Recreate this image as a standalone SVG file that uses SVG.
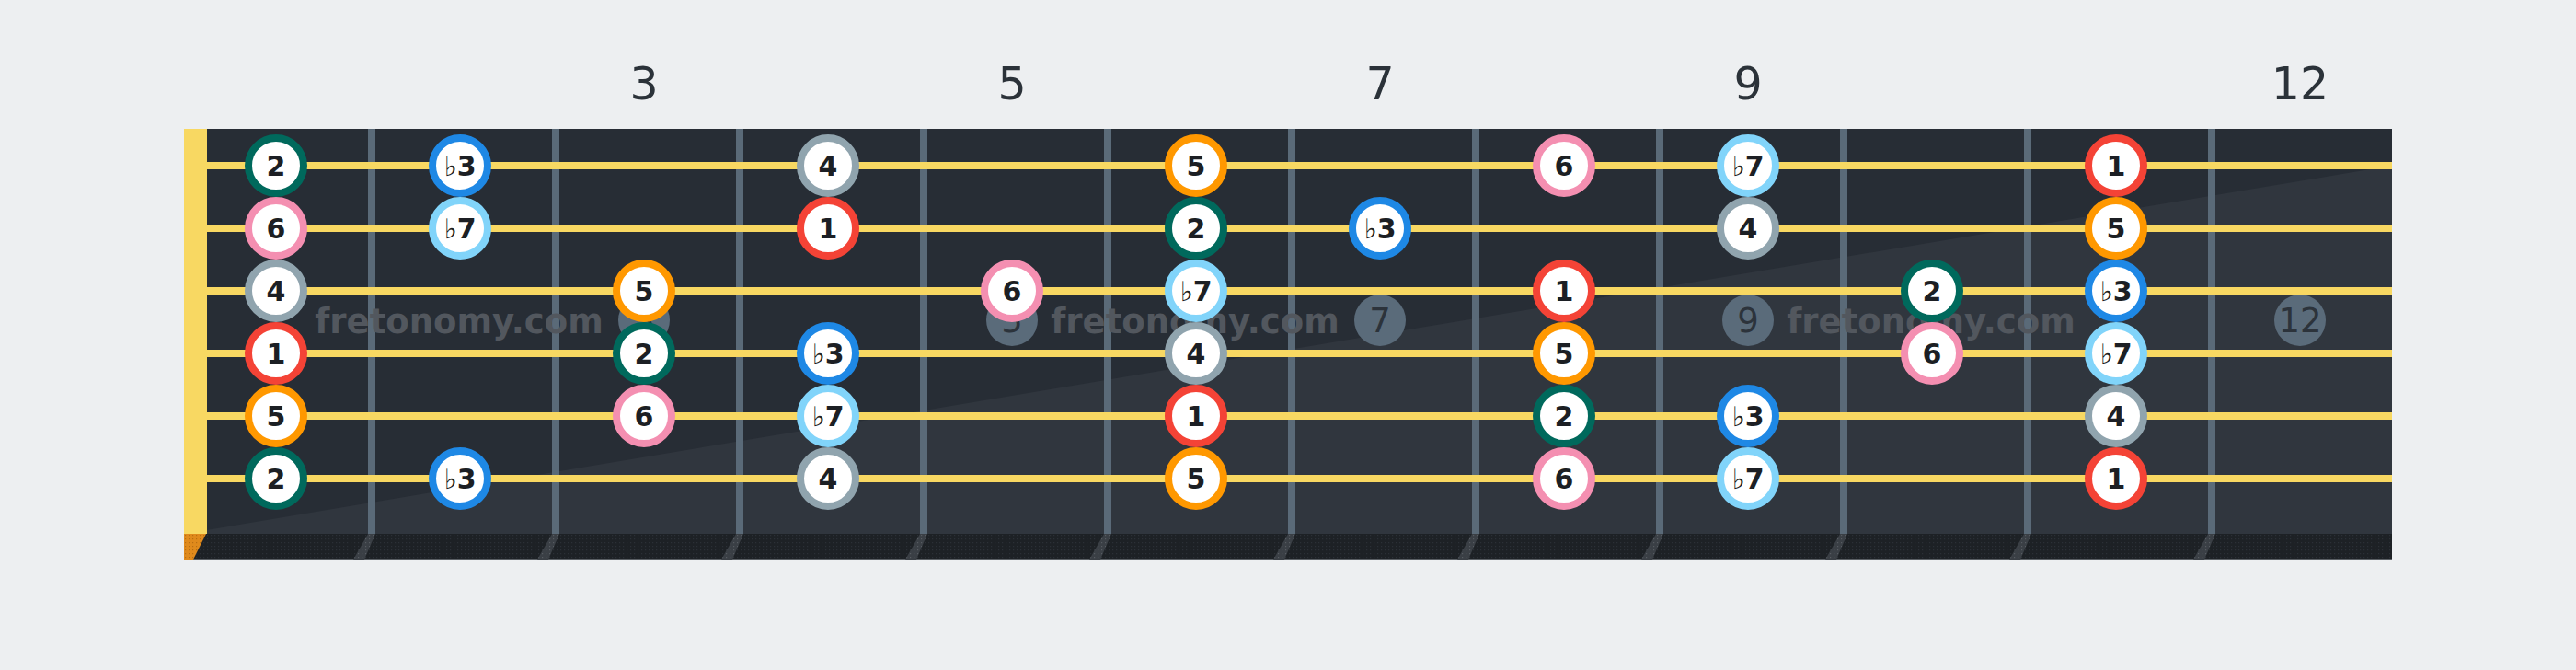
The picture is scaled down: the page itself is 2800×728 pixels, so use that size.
<svg xmlns="http://www.w3.org/2000/svg" width="2800" height="728" viewBox="0 0 2800 728">
<defs>
<pattern id="dots" width="4" height="4" patternUnits="userSpaceOnUse">
<rect width="4" height="4" fill="#1d2125"/>
<rect x="1" y="1" width="1.2" height="1.2" fill="#2b3036"/>
</pattern>
<pattern id="dotsLight" width="4" height="4" patternUnits="userSpaceOnUse">
<rect width="4" height="4" fill="#3a3f45"/>
<rect x="1" y="1" width="1.2" height="1.2" fill="#575c62"/>
</pattern>
<pattern id="dotsOrange" width="4" height="4" patternUnits="userSpaceOnUse">
<rect width="4" height="4" fill="#e08a1c"/>
<rect x="1" y="1" width="1.2" height="1.2" fill="#b86e12"/>
</pattern>
</defs>
<style>
.fretnum{font-family:"DejaVu Sans","Liberation Sans",sans-serif;font-size:49px;fill:#2b3239;text-anchor:middle}
.wire{fill:#5a6a78}
.str{fill:#f8d862}
.inlay circle{fill:#5a6b7a}
.inlay text{font-family:"DejaVu Sans","Liberation Sans",sans-serif;font-size:37px;fill:#2c333b;text-anchor:middle}
.wm{font-family:"DejaVu Sans","Liberation Sans",sans-serif;font-weight:bold;font-size:37px;fill:#52575e;text-anchor:middle}
.note circle{fill:#ffffff;stroke-width:8}
.note text{font-family:"DejaVu Sans","Liberation Sans",sans-serif;font-weight:bold;font-size:30px;fill:#1c1f24;text-anchor:middle}
.note tspan.fl{font-weight:normal}
.d1 circle{stroke:#f44336}
.d2 circle{stroke:#00695c}
.d3 circle{stroke:#1e88e5}
.d4 circle{stroke:#90a4ae}
.d5 circle{stroke:#ff9800}
.d6 circle{stroke:#f48fb1}
.d7 circle{stroke:#81d4fa}
</style>
<rect width="2800" height="728" fill="#edeff1"/>
<g id="fret-numbers">
<text class="fretnum" x="700" y="108">3</text>
<text class="fretnum" x="1100" y="108">5</text>
<text class="fretnum" x="1500" y="108">7</text>
<text class="fretnum" x="1900" y="108">9</text>
<text class="fretnum" x="2500" y="108">12</text>
</g>
<g id="board">
<rect x="200" y="140" width="2400" height="440" fill="#272d35"/>
<polygon points="200,580 2600,180 2600,580" fill="#30363e"/>
<rect x="200" y="580" width="2400" height="28" fill="url(#dots)"/>
<rect x="200" y="607.5" width="2400" height="1.5" fill="#9aa0a6"/>
<polygon points="200,580 224,580 210,608 200,608" fill="url(#dotsOrange)"/>
<rect x="200" y="140" width="25" height="440" fill="#f8d862"/>
<g id="frets">
<rect class="wire" x="400" y="140" width="8" height="440"/>
<rect class="wire" x="600" y="140" width="8" height="440"/>
<rect class="wire" x="800" y="140" width="8" height="440"/>
<rect class="wire" x="1000" y="140" width="8" height="440"/>
<rect class="wire" x="1200" y="140" width="8" height="440"/>
<rect class="wire" x="1400" y="140" width="8" height="440"/>
<rect class="wire" x="1600" y="140" width="8" height="440"/>
<rect class="wire" x="1800" y="140" width="8" height="440"/>
<rect class="wire" x="2000" y="140" width="8" height="440"/>
<rect class="wire" x="2200" y="140" width="8" height="440"/>
<rect class="wire" x="2400" y="140" width="8" height="440"/>
<g fill="url(#dotsLight)">
<polygon points="400,580 408,580 396,608 384,608"/>
<polygon points="600,580 608,580 596,608 584,608"/>
<polygon points="800,580 808,580 796,608 784,608"/>
<polygon points="1000,580 1008,580 996,608 984,608"/>
<polygon points="1200,580 1208,580 1196,608 1184,608"/>
<polygon points="1400,580 1408,580 1396,608 1384,608"/>
<polygon points="1600,580 1608,580 1596,608 1584,608"/>
<polygon points="1800,580 1808,580 1796,608 1784,608"/>
<polygon points="2000,580 2008,580 1996,608 1984,608"/>
<polygon points="2200,580 2208,580 2196,608 2184,608"/>
<polygon points="2400,580 2408,580 2396,608 2384,608"/>
</g>
</g>
<g id="inlays" class="inlay">
<circle cx="700" cy="348" r="28"/><text x="700" y="361">3</text>
<circle cx="1100" cy="348" r="28"/><text x="1100" y="361">5</text>
<circle cx="1500" cy="348" r="28"/><text x="1500" y="361">7</text>
<circle cx="1900" cy="348" r="28"/><text x="1900" y="361">9</text>
<circle cx="2500" cy="348" r="28"/><text x="2500" y="361">12</text>
</g>
<g id="strings">
<rect class="str" x="225" y="176" width="2375" height="8"/>
<rect class="str" x="225" y="244" width="2375" height="8"/>
<rect class="str" x="225" y="312" width="2375" height="8"/>
<rect class="str" x="225" y="380" width="2375" height="8"/>
<rect class="str" x="225" y="448" width="2375" height="8"/>
<rect class="str" x="225" y="516" width="2375" height="8"/>
</g>
<g id="watermarks">
<text class="wm" x="499" y="362">fretonomy.com</text>
<text class="wm" x="1299" y="362">fretonomy.com</text>
<text class="wm" x="2099" y="362">fretonomy.com</text>
</g>
</g>
<g id="connectors"></g>
<g id="notes">
<g id="s1f1" class="note d2"><circle cx="300" cy="180" r="30"/><text x="300" y="191">2</text></g>
<g id="s1f2" class="note d3"><circle cx="500" cy="180" r="30"/><text x="500" y="191"><tspan class="fl">♭</tspan>3</text></g>
<g id="s1f4" class="note d4"><circle cx="900" cy="180" r="30"/><text x="900" y="191">4</text></g>
<g id="s1f6" class="note d5"><circle cx="1300" cy="180" r="30"/><text x="1300" y="191">5</text></g>
<g id="s1f8" class="note d6"><circle cx="1700" cy="180" r="30"/><text x="1700" y="191">6</text></g>
<g id="s1f9" class="note d7"><circle cx="1900" cy="180" r="30"/><text x="1900" y="191"><tspan class="fl">♭</tspan>7</text></g>
<g id="s1f11" class="note d1"><circle cx="2300" cy="180" r="30"/><text x="2300" y="191">1</text></g>

<g id="s2f1" class="note d6"><circle cx="300" cy="248" r="30"/><text x="300" y="259">6</text></g>
<g id="s2f2" class="note d7"><circle cx="500" cy="248" r="30"/><text x="500" y="259"><tspan class="fl">♭</tspan>7</text></g>
<g id="s2f4" class="note d1"><circle cx="900" cy="248" r="30"/><text x="900" y="259">1</text></g>
<g id="s2f6" class="note d2"><circle cx="1300" cy="248" r="30"/><text x="1300" y="259">2</text></g>
<g id="s2f7" class="note d3"><circle cx="1500" cy="248" r="30"/><text x="1500" y="259"><tspan class="fl">♭</tspan>3</text></g>
<g id="s2f9" class="note d4"><circle cx="1900" cy="248" r="30"/><text x="1900" y="259">4</text></g>
<g id="s2f11" class="note d5"><circle cx="2300" cy="248" r="30"/><text x="2300" y="259">5</text></g>

<g id="s3f1" class="note d4"><circle cx="300" cy="316" r="30"/><text x="300" y="327">4</text></g>
<g id="s3f3" class="note d5"><circle cx="700" cy="316" r="30"/><text x="700" y="327">5</text></g>
<g id="s3f5" class="note d6"><circle cx="1100" cy="316" r="30"/><text x="1100" y="327">6</text></g>
<g id="s3f6" class="note d7"><circle cx="1300" cy="316" r="30"/><text x="1300" y="327"><tspan class="fl">♭</tspan>7</text></g>
<g id="s3f8" class="note d1"><circle cx="1700" cy="316" r="30"/><text x="1700" y="327">1</text></g>
<g id="s3f10" class="note d2"><circle cx="2100" cy="316" r="30"/><text x="2100" y="327">2</text></g>
<g id="s3f11" class="note d3"><circle cx="2300" cy="316" r="30"/><text x="2300" y="327"><tspan class="fl">♭</tspan>3</text></g>

<g id="s4f1" class="note d1"><circle cx="300" cy="384" r="30"/><text x="300" y="395">1</text></g>
<g id="s4f3" class="note d2"><circle cx="700" cy="384" r="30"/><text x="700" y="395">2</text></g>
<g id="s4f4" class="note d3"><circle cx="900" cy="384" r="30"/><text x="900" y="395"><tspan class="fl">♭</tspan>3</text></g>
<g id="s4f6" class="note d4"><circle cx="1300" cy="384" r="30"/><text x="1300" y="395">4</text></g>
<g id="s4f8" class="note d5"><circle cx="1700" cy="384" r="30"/><text x="1700" y="395">5</text></g>
<g id="s4f10" class="note d6"><circle cx="2100" cy="384" r="30"/><text x="2100" y="395">6</text></g>
<g id="s4f11" class="note d7"><circle cx="2300" cy="384" r="30"/><text x="2300" y="395"><tspan class="fl">♭</tspan>7</text></g>

<g id="s5f1" class="note d5"><circle cx="300" cy="452" r="30"/><text x="300" y="463">5</text></g>
<g id="s5f3" class="note d6"><circle cx="700" cy="452" r="30"/><text x="700" y="463">6</text></g>
<g id="s5f4" class="note d7"><circle cx="900" cy="452" r="30"/><text x="900" y="463"><tspan class="fl">♭</tspan>7</text></g>
<g id="s5f6" class="note d1"><circle cx="1300" cy="452" r="30"/><text x="1300" y="463">1</text></g>
<g id="s5f8" class="note d2"><circle cx="1700" cy="452" r="30"/><text x="1700" y="463">2</text></g>
<g id="s5f9" class="note d3"><circle cx="1900" cy="452" r="30"/><text x="1900" y="463"><tspan class="fl">♭</tspan>3</text></g>
<g id="s5f11" class="note d4"><circle cx="2300" cy="452" r="30"/><text x="2300" y="463">4</text></g>

<g id="s6f1" class="note d2"><circle cx="300" cy="520" r="30"/><text x="300" y="531">2</text></g>
<g id="s6f2" class="note d3"><circle cx="500" cy="520" r="30"/><text x="500" y="531"><tspan class="fl">♭</tspan>3</text></g>
<g id="s6f4" class="note d4"><circle cx="900" cy="520" r="30"/><text x="900" y="531">4</text></g>
<g id="s6f6" class="note d5"><circle cx="1300" cy="520" r="30"/><text x="1300" y="531">5</text></g>
<g id="s6f8" class="note d6"><circle cx="1700" cy="520" r="30"/><text x="1700" y="531">6</text></g>
<g id="s6f9" class="note d7"><circle cx="1900" cy="520" r="30"/><text x="1900" y="531"><tspan class="fl">♭</tspan>7</text></g>
<g id="s6f11" class="note d1"><circle cx="2300" cy="520" r="30"/><text x="2300" y="531">1</text></g>
</g>
</svg>
